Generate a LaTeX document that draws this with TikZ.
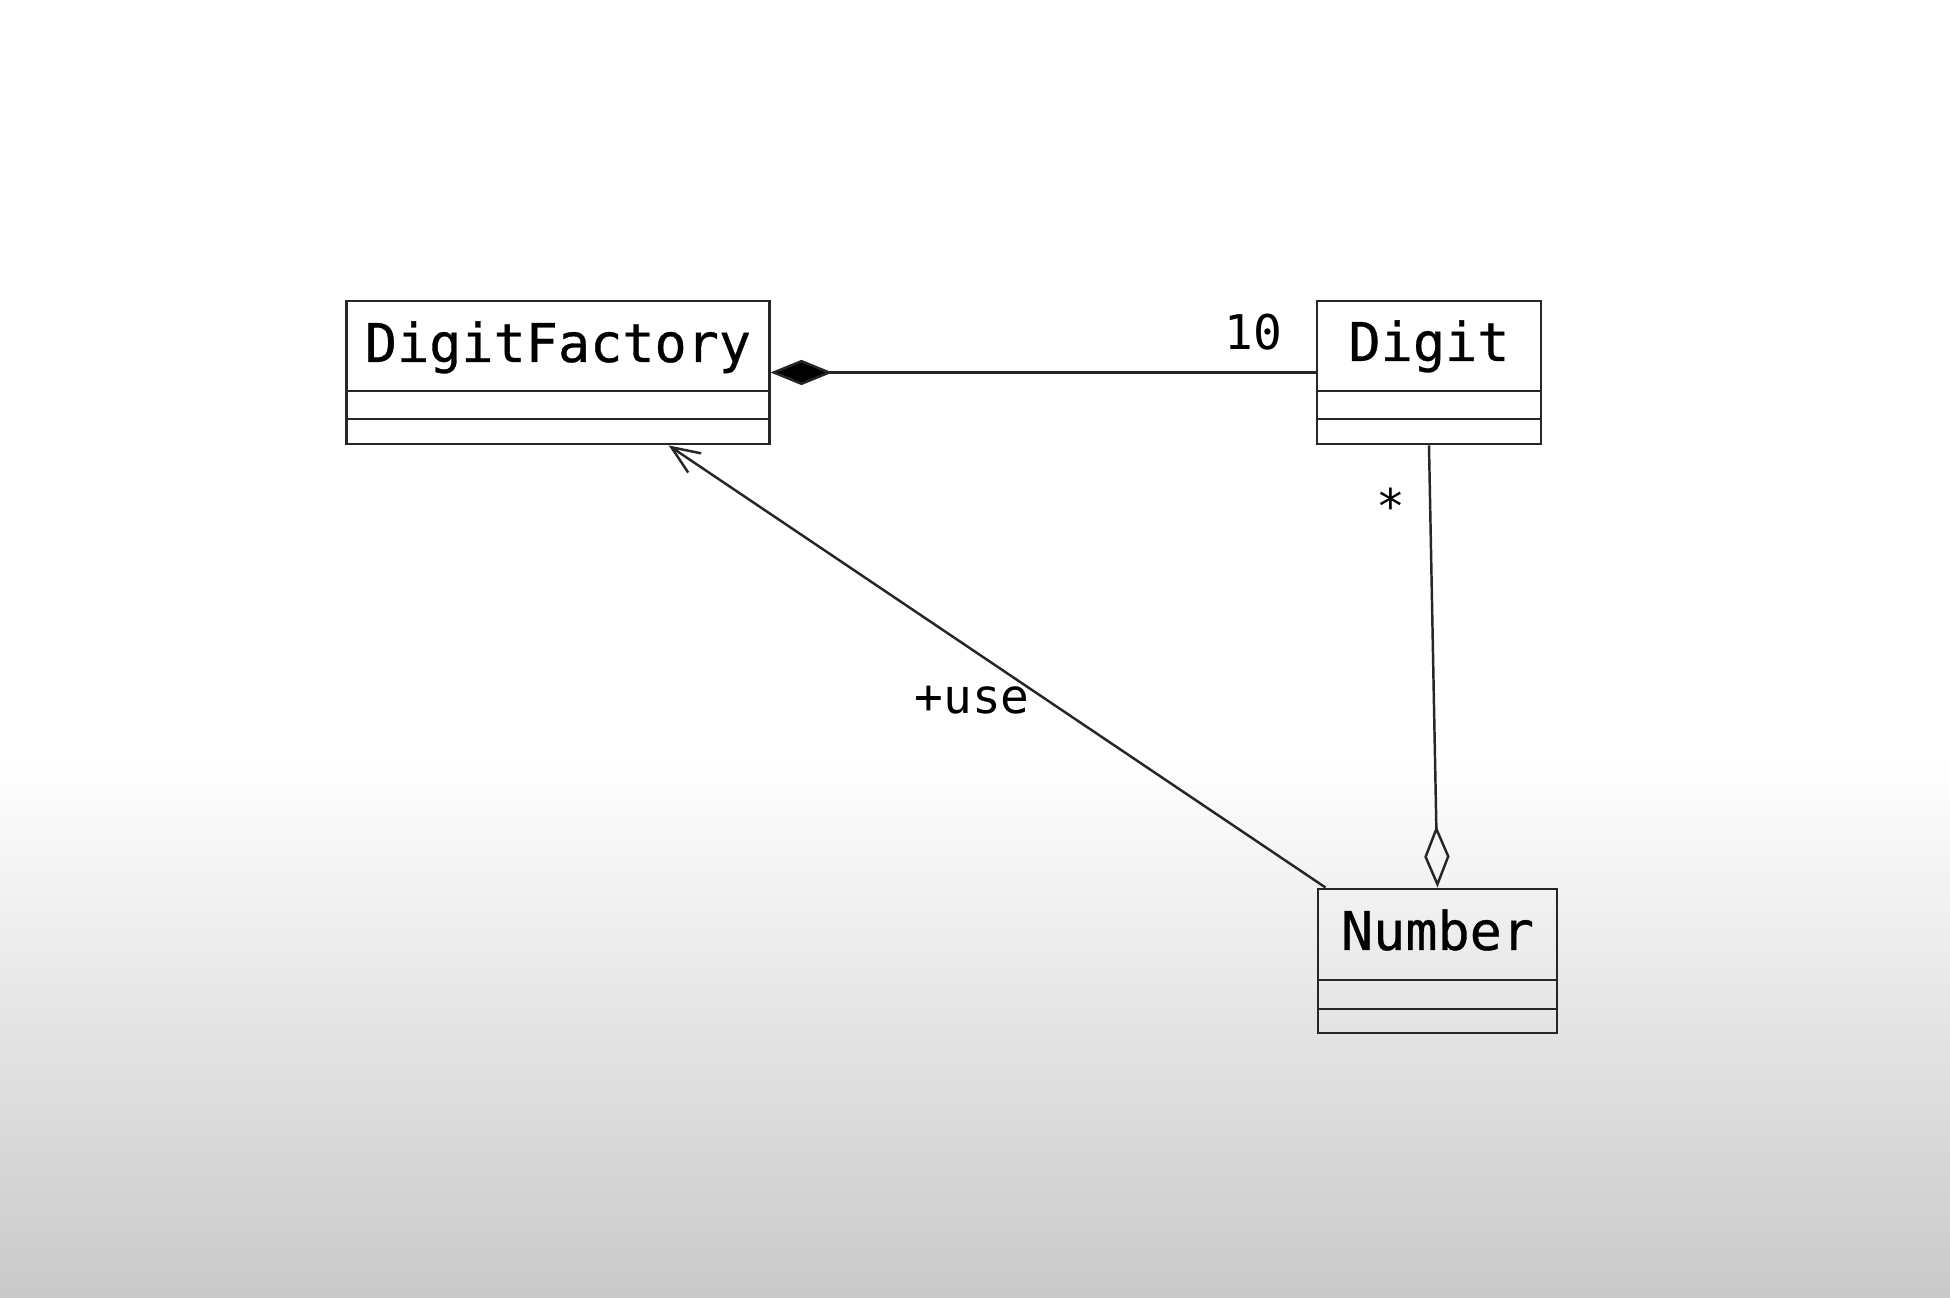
\documentclass[tikz,border=0pt]{standalone}
\usepackage{fontspec}
\setmonofont{DejaVu Sans Mono}
\newfontfamily\clsfont{DejaVu Sans Mono}[BoldFont={DejaVu Sans Mono},BoldFeatures={FakeBold=0.6}]
\usetikzlibrary{arrows.meta,calc}
\definecolor{bggray}{RGB}{201,201,201}
\begin{document}
\begin{tikzpicture}[x=0.01cm,y=-0.01cm,
  classbox/.style={draw=black!85,line width=0.8pt,rectangle,inner sep=0pt},
  classname/.style={font=\fontsize{15.2}{18}\clsfont\bfseries,inner sep=0pt,anchor=base},
  lbl/.style={font=\fontsize{13.6}{16}\selectfont\ttfamily,inner sep=0pt},
  conn/.style={draw=black!85,line width=0.7pt},
  compo/.style={conn,{Diamond[length=17.6pt,width=7.2pt,fill=black]}-},
  aggr/.style={conn,-{Diamond[open,length=17.6pt,width=7.2pt]}},
  dep/.style={conn,-{Straight Barb[length=8pt,width=6.6pt,line width=0.7pt]}}]
% background
\useasboundingbox (0,0) rectangle (1950,1298);
\fill[white] (0,0) rectangle (1950,758);
\shade[top color=white,bottom color=bggray] (0,757) rectangle (1950,1298);
% DigitFactory
\node[classbox,minimum width=42.2mm,minimum height=14.3mm] (DF) at (558,372.5) {};
\node[classname] (DFt) at (558,362) {DigitFactory};
\draw[classbox] (347,391) -- (769,391) (347,419) -- (769,419);
% Digit
\node[classbox,minimum width=22.4mm,minimum height=14.3mm] (Dg) at (1429,372.5) {};
\node[classname] (Dgt) at (1429,361) {Digit};
\draw[classbox] (1317,391) -- (1541,391) (1317,419) -- (1541,419);
% Number
\node[classbox,minimum width=23.9mm,minimum height=14.4mm] (Nb) at (1437.5,961) {};
\node[classname] (Nbt) at (1437.5,950) {Number};
\draw[classbox] (1318,980) -- (1557,980) (1318,1009) -- (1557,1009);
% connectors
\draw[compo] (DF.east) -- (Dg.west);
\draw[aggr] (Dg.south) -- (Nb.north);
\coordinate (depS) at ([xshift=0.9mm]Nb.north west);
\coordinate (depE) at ([xshift=32.3mm]DF.south west);
\draw[dep] (depS) -- (depE);
% labels
\node[lbl] (l10) at (1253,332) {10};
\node[lbl] (luse) at (972,700) {+use};
\node[lbl] (lstar) at (1391,506) {*};
\end{tikzpicture}
\end{document}
